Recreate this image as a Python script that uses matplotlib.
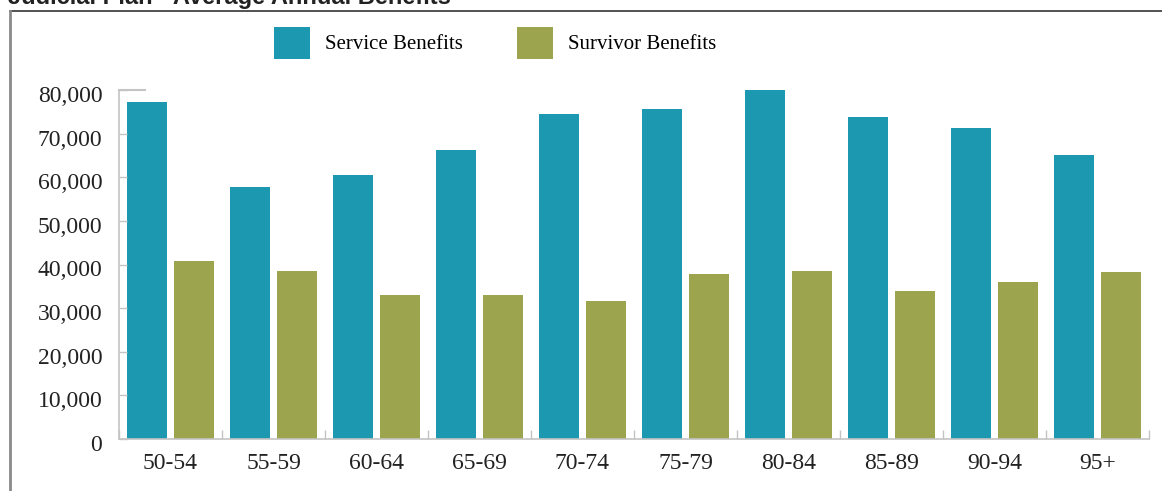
import numpy as np
import matplotlib
matplotlib.use("Agg")
import matplotlib.pyplot as plt
from matplotlib.lines import Line2D
from matplotlib.transforms import ScaledTranslation

# age groups and average annual benefits
ages = ["50-54", "55-59", "60-64", "65-69", "70-74", "75-79", "80-84", "85-89", "90-94", "95+"]
service = [77200, 57700, 60600, 66200, 74500, 75600, 80000, 73800, 71300, 65100]
survivor = [40900, 38400, 33100, 32900, 31700, 37900, 38600, 34000, 36100, 38200]
yticks = [0, 10000, 20000, 30000, 40000, 50000, 60000, 70000, 80000]

teal = "#1d98b1"
olive = "#9ca54e"
grey = "#c4c4c4"
txt = "#222222"

plt.rcParams["font.family"] = ["Liberation Serif", "DejaVu Serif"]

fig = plt.figure(figsize=(11.62, 4.91), dpi=100)
ax = fig.add_axes([119 / 1162, 1 - 439 / 491, 1030 / 1162, 349 / 491])

x = np.arange(len(ages))
w = 0.388
ax.bar(x - 0.228, service, w, color=teal, label="Service Benefits")
ax.bar(x + 0.228, survivor, w, color=olive, label="Survivor Benefits")

ax.set_xlim(-0.5, len(ages) - 0.5)
ax.set_ylim(0, 80000)

# category labels sit between boundary ticks
ax.set_xticks(np.arange(len(ages) + 1) - 0.5)
ax.set_xticklabels([])
ax.set_xticks(x, minor=True)
ax.set_xticklabels(ages, minor=True, fontsize=17, color=txt)
ax.tick_params(axis="x", which="major", direction="in", length=6.5, color=grey, width=1)
ax.tick_params(axis="x", which="minor", length=0, pad=10)

ax.set_yticks(yticks)
ax.set_yticklabels(["{:,}".format(v) for v in yticks], fontsize=17, color=txt)
ax.tick_params(axis="y", direction="in", length=6, color=grey, width=1, pad=12)
shift = ScaledTranslation(0, -4 / 100, fig.dpi_scale_trans)
for lab in ax.get_yticklabels():
    lab.set_transform(lab.get_transform() + shift)
ax.axhline(80000, xmin=0, xmax=26 / 1030, color=grey, lw=1.5, clip_on=False)

for s in ["top", "right"]:
    ax.spines[s].set_visible(False)
for s in ["left", "bottom"]:
    ax.spines[s].set_color(grey)
    ax.spines[s].set_linewidth(1.2)

fig.legend(loc="upper left", bbox_to_anchor=(274 / 1162, 1 - 27 / 491), ncol=2,
           frameon=False, fontsize=15, handlelength=1.73, handleheight=1.95,
           handletextpad=0.72, columnspacing=2.6, borderpad=0, borderaxespad=0)

# outer frame and the clipped heading above it
fig.add_artist(Line2D([10 / 1162, 1], [1 - 11 / 491, 1 - 11 / 491], color="#444444", lw=1.3))
fig.add_artist(Line2D([10 / 1162, 10 / 1162], [0, 1 - 11 / 491], color="#8a8a8a", lw=2))
fig.text(8 / 1162, 1 - 4 / 491, "Judicial Plan - Average Annual Benefits", fontsize=17,
         fontweight="bold", family=["Liberation Sans", "DejaVu Sans"], color="#222222",
         va="baseline")

fig.savefig("out.png", dpi=100)
